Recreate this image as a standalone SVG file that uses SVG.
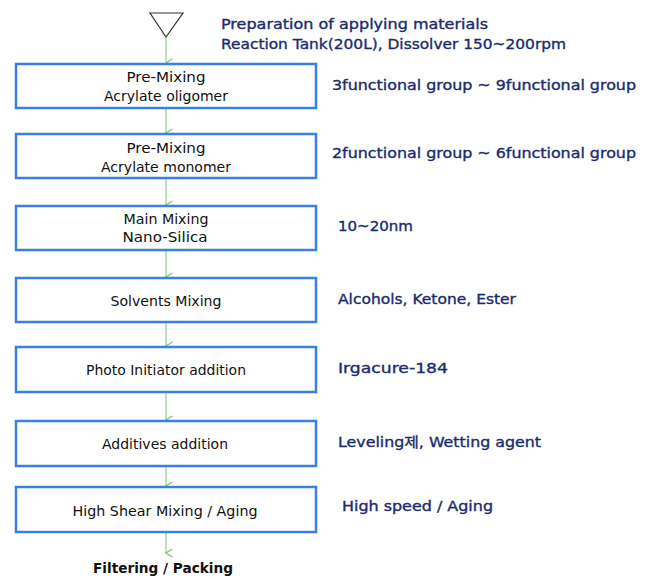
<svg xmlns="http://www.w3.org/2000/svg" width="650" height="579" viewBox="0 0 650 579">
<defs>
<marker id="arr" viewBox="0 0 10 10" refX="5" refY="9" markerWidth="10" markerHeight="10" markerUnits="userSpaceOnUse" orient="auto-start-reverse">
<path d="M1,2.5 L5,9 L9,2.5" fill="none" stroke="#7cc87c" stroke-width="1.3"/>
</marker>
</defs>
<style>
.box{fill:#fff;stroke:#3b7fe0;stroke-width:2.5}
.nt{font-family:"DejaVu Sans","Noto Sans CJK KR",sans-serif;font-size:13.5px;fill:#111;text-anchor:middle}
.rt{font-family:"DejaVu Sans","Noto Sans CJK KR",sans-serif;font-size:14px;fill:#1a2b6e;stroke:#1a2b6e;stroke-width:0.35}
.con line{stroke:#8ccf8c;stroke-width:1.2;marker-end:url(#arr)}
</style>
<rect width="650" height="579" fill="#fff"/>
<g id="tank">
<polygon points="150,13 183,13 166,37" fill="#fff" stroke="#333" stroke-width="1.2"/>
<text class="rt" x="221" y="29" textLength="267" lengthAdjust="spacingAndGlyphs">Preparation of applying materials</text>
<text class="rt" x="221" y="49" textLength="345" lengthAdjust="spacingAndGlyphs">Reaction Tank(200L), Dissolver 150~200rpm</text>
</g>
<g class="con" id="connectors">
<line x1="166" y1="37" x2="166" y2="63"/>
<line x1="166" y1="109" x2="166" y2="133"/>
<line x1="166" y1="179" x2="166" y2="205"/>
<line x1="166" y1="251" x2="166" y2="277"/>
<line x1="166" y1="323" x2="166" y2="346"/>
<line x1="166" y1="393" x2="166" y2="420"/>
<line x1="166" y1="467" x2="166" y2="486"/>
<line x1="166" y1="533" x2="166" y2="553"/>
</g>
<g id="n1">
<rect class="box" x="16" y="64" width="300" height="44"/>
<text class="nt" x="166" y="82" textLength="79" lengthAdjust="spacingAndGlyphs">Pre-Mixing</text>
<text class="nt" x="166" y="101" textLength="124" lengthAdjust="spacingAndGlyphs">Acrylate oligomer</text>
<text class="rt" x="332" y="90" textLength="304" lengthAdjust="spacingAndGlyphs">3functional group ~ 9functional group</text>
</g>
<g id="n2">
<rect class="box" x="16" y="134" width="300" height="44"/>
<text class="nt" x="166" y="153" textLength="79" lengthAdjust="spacingAndGlyphs">Pre-Mixing</text>
<text class="nt" x="166" y="172" textLength="130" lengthAdjust="spacingAndGlyphs">Acrylate monomer</text>
<text class="rt" x="332" y="158" textLength="304" lengthAdjust="spacingAndGlyphs">2functional group ~ 6functional group</text>
</g>
<g id="n3">
<rect class="box" x="16" y="206" width="300" height="44"/>
<text class="nt" x="166" y="224" textLength="85" lengthAdjust="spacingAndGlyphs">Main Mixing</text>
<text class="nt" x="165" y="242" textLength="85" lengthAdjust="spacingAndGlyphs">Nano-Silica</text>
<text class="rt" x="338" y="231" textLength="75" lengthAdjust="spacingAndGlyphs">10~20nm</text>
</g>
<g id="n4">
<rect class="box" x="16" y="278" width="300" height="44"/>
<text class="nt" x="166" y="306" textLength="111" lengthAdjust="spacingAndGlyphs">Solvents Mixing</text>
<text class="rt" x="338" y="304" textLength="178" lengthAdjust="spacingAndGlyphs">Alcohols, Ketone, Ester</text>
</g>
<g id="n5">
<rect class="box" x="16" y="347" width="300" height="45"/>
<text class="nt" x="166" y="375" textLength="160" lengthAdjust="spacingAndGlyphs">Photo Initiator addition</text>
<text class="rt" x="338" y="373" textLength="110" lengthAdjust="spacingAndGlyphs">Irgacure-184</text>
</g>
<g id="n6">
<rect class="box" x="16" y="421" width="300" height="45"/>
<text class="nt" x="165" y="449" textLength="126" lengthAdjust="spacingAndGlyphs">Additives addition</text>
<text class="rt" x="338" y="447" textLength="203" lengthAdjust="spacingAndGlyphs">Leveling제, Wetting agent</text>
</g>
<g id="n7">
<rect class="box" x="16" y="487" width="300" height="45"/>
<text class="nt" x="165" y="516" textLength="185" lengthAdjust="spacingAndGlyphs">High Shear Mixing / Aging</text>
<text class="rt" x="342" y="511" textLength="151" lengthAdjust="spacingAndGlyphs">High speed / Aging</text>
</g>
<g id="n8">
<text x="163" y="573" font-family="DejaVu Sans, sans-serif" font-size="14" font-weight="bold" fill="#111" text-anchor="middle" textLength="140" lengthAdjust="spacingAndGlyphs">Filtering / Packing</text>
</g>
</svg>
